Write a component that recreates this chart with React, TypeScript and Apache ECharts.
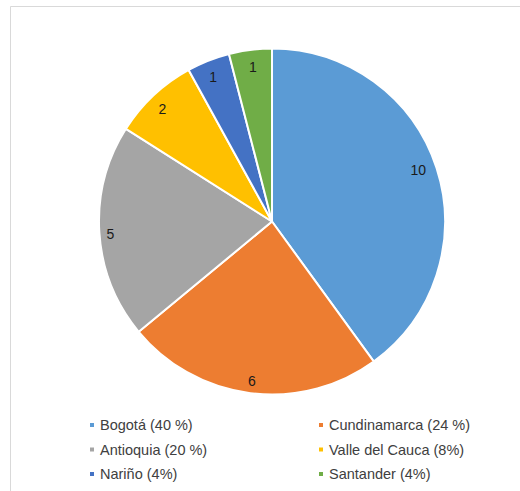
import React, { useEffect, useRef } from "react";
import * as echarts from "echarts";

const categories = ["Bogotá", "Cundinamarca", "Antioquia", "Valle del Cauca", "Nariño", "Santander"];
const values = [10, 6, 5, 2, 1, 1];
const legendNames = [
  "Bogotá (40 %)",
  "Cundinamarca (24 %)",
  "Antioquia (20 %)",
  "Valle del Cauca (8%)",
  "Nariño (4%)",
  "Santander (4%)",
];
const colors = ["#5B9BD5", "#ED7D31", "#A5A5A5", "#FFC000", "#4472C4", "#70AD47"];
// small label nudges (styling only)
const labelNudges: [number, number][] = [[-6, -2], [0, 1], [-2, 2], [0, 4], [0, 4], [1, 4]];

export default function App() {
  const ref = useRef<HTMLDivElement>(null);
  useEffect(() => {
    if (!ref.current) return;
    const chart = echarts.init(ref.current, null, { renderer: "svg" });
    const data = categories.map((c, i) => ({
      name: legendNames[i],
      value: values[i],
      itemStyle: { color: colors[i] },
    }));
    const legendCommon = {
      orient: "vertical" as const,
      top: 417,
      height: 74,
      padding: 0,
      icon: "rect",
      itemWidth: 6,
      itemHeight: 6,
      itemGap: 8.5,
      selectedMode: false,
      textStyle: {
        fontFamily: "Liberation Sans, Arial, sans-serif",
        fontSize: 14.5,
        color: "#404040",
        lineHeight: 16,
      },
    };
    chart.setOption({
      animation: false,
      graphic: [
        { type: "line", shape: { x1: 10.5, y1: 6.5, x2: 520, y2: 6.5 }, style: { stroke: "#d9d9d9", lineWidth: 1 } },
        { type: "line", shape: { x1: 10.5, y1: 6.5, x2: 10.5, y2: 491 }, style: { stroke: "#d9d9d9", lineWidth: 1 } },
      ],
      legend: [
        { ...legendCommon, left: 88, width: 200, data: [legendNames[0], legendNames[2], legendNames[4]] },
        { ...legendCommon, left: 317, width: 200, data: [legendNames[1], legendNames[3], legendNames[5]] },
      ],
      series: [
        {
          type: "pie",
          center: [272, 221.5],
          radius: [0, 173],
          startAngle: 90,
          clockwise: true,
          data,
          label: { show: false },
          labelLine: { show: false },
          itemStyle: { borderColor: "#ffffff", borderWidth: 2 },
          emphasis: { disabled: true },
          silent: true,
        },
        {
          type: "pie",
          center: [272, 221.5],
          radius: [141, 173],
          startAngle: 90,
          clockwise: true,
          data: data.map((d, i) => ({
            ...d,
            itemStyle: { color: "rgba(0,0,0,0)" },
            label: { offset: labelNudges[i] },
          })),
          label: {
            show: true,
            position: "inside",
            formatter: (p: any) => String(p.value),
            fontFamily: "Liberation Sans, Arial, sans-serif",
            fontSize: 14,
            color: "#1a1a1a",
          },
          labelLine: { show: false },
          itemStyle: { borderWidth: 0 },
          emphasis: { disabled: true },
          silent: true,
          legendHoverLink: false,
        },
      ],
    });
    return () => chart.dispose();
  }, []);
  return (
    <div
      ref={ref}
      style={{ position: "fixed", left: 0, top: 0, width: 520, height: 491, background: "#ffffff" }}
    />
  );
}
